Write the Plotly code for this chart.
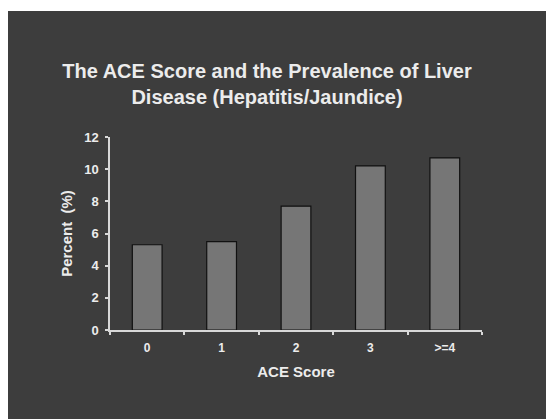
import plotly.graph_objects as go

categories = ["0", "1", "2", "3", ">=4"]
percent = [5.3, 5.5, 7.7, 10.2, 10.7]
y_ticks = [0, 2, 4, 6, 8, 10, 12]

# The page body adds an 8px margin, so figure coords = screen coords - 8
W, H = 554, 419
ml, mr, mt, mb = 102, 80, 129, 97
pw, ph = W - ml - mr, H - mt - mb

def px_to_paper_x(px):
    return (px - ml) / pw

def px_to_paper_y(py):
    return (H - mb - py) / ph

font_family = "Liberation Sans, Arial, sans-serif"
text_col = "#ececec"
bg = "#3d3d3d"

fig = go.Figure(go.Bar(
    x=categories, y=percent,
    marker=dict(color="#767676", line=dict(color="#111111", width=1.2)),
))

fig.update_layout(
    width=W, height=H,
    margin=dict(l=ml, r=mr, t=mt, b=mb),
    paper_bgcolor=bg,
    plot_bgcolor="rgba(0,0,0,0)",
    bargap=0.6,
    showlegend=False,
    font=dict(family=font_family, color=text_col, size=12, weight="bold"),
    title=dict(
        text="The ACE Score and the Prevalence of Liver<br>Disease (Hepatitis/Jaundice)",
        x=259 / W, xref="container", xanchor="center",
        y=1 - 70 / H, yref="container", yanchor="middle",
        font=dict(size=20, color=text_col, family=font_family, weight="bold"),
    ),
    shapes=[dict(
        type="rect", xref="paper", yref="paper", layer="below",
        x0=px_to_paper_x(-5), x1=px_to_paper_x(W + 5),
        y0=px_to_paper_y(3), y1=px_to_paper_y(-5),
        fillcolor="white", line=dict(width=0),
    )],
)

fig.update_xaxes(
    type="category",
    showline=True, linecolor="#d8d8d8", linewidth=1.5,
    ticks="outside", tickson="boundaries", ticklen=3, tickcolor="#d8d8d8", tickwidth=1.5,
    showgrid=False, zeroline=False, ticklabelstandoff=6,
    tickfont=dict(size=12, color=text_col, family=font_family, weight="bold"),
    title=dict(text="ACE Score", standoff=12,
               font=dict(size=15, color=text_col, family=font_family, weight="bold")),
)
fig.update_yaxes(
    range=[0, 12], tickvals=y_ticks,
    showline=True, linecolor="#d8d8d8", linewidth=1.5,
    ticks="outside", ticklen=3, tickcolor="#d8d8d8", tickwidth=1.5,
    showgrid=False, zeroline=False, ticklabelstandoff=4,
    tickfont=dict(size=13, color=text_col, family=font_family, weight="bold"),
    title=dict(text="Percent  (%)", standoff=8,
               font=dict(size=15, color=text_col, family=font_family, weight="bold")),
)

fig.write_html("out.html")
